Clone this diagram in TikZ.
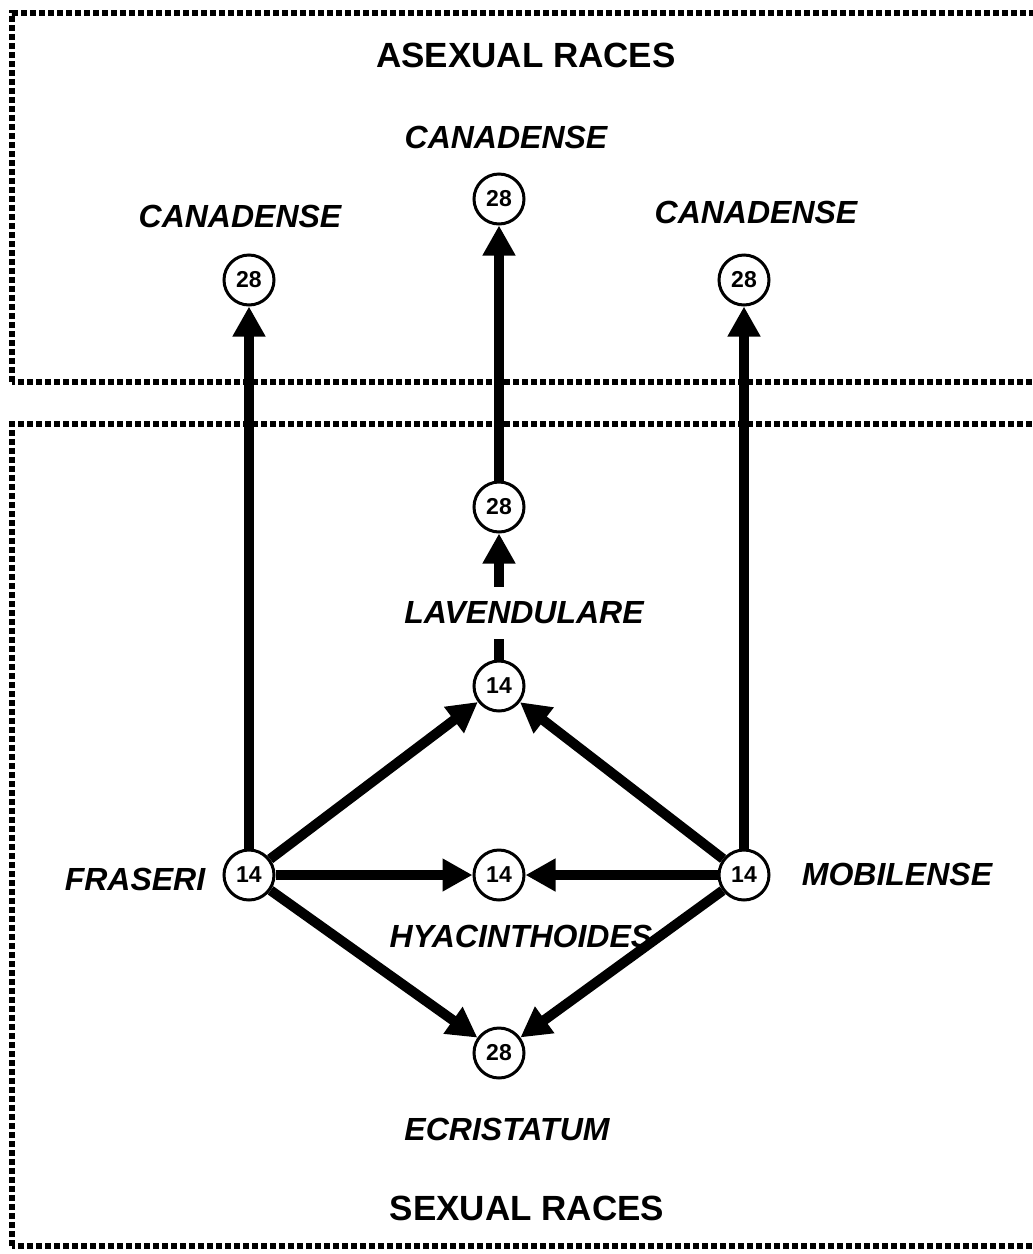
\documentclass[tikz,border=0pt]{standalone}
\usepackage{fontspec}
\setmainfont{Liberation Sans}
\usetikzlibrary{arrows.meta}
\begin{document}
\begin{tikzpicture}[x=1pt,y=-1pt,
  num/.style={circle,draw,line width=3pt,fill=white,minimum size=50pt,inner sep=0pt,font=\fontsize{23}{23}\selectfont\bfseries},
  lab/.style={inner sep=0pt,font=\fontsize{32}{32}\selectfont\bfseries\itshape},
  head/.style={inner sep=0pt,font=\fontsize{35}{35}\selectfont\bfseries},
  conn/.style={line width=10pt,-{Triangle[length=30pt,width=31pt]}},
  border/.style={line width=6.5pt,dash pattern=on 6pt off 3pt}]
\useasboundingbox (0,0) rectangle (1033,1254);
\draw[border] (12,1246) -- (12,424) -- (1050,424);
\draw[border] (1050,1246) -- (12,1246);
\draw[border] (12,382) -- (12,13) -- (1050,13);
\draw[border] (1050,382) -- (12,382);

\node[num] (tl) at (249,280) {28};
\node[num] (tc) at (499,199) {28};
\node[num] (tr) at (744,280) {28};
\node[num] (mid) at (499,507) {28};
\node[num] (lav) at (499,686) {14};
\node[num] (fra) at (249,875) {14};
\node[num] (hya) at (499,875) {14};
\node[num] (mob) at (744,875) {14};
\node[num] (ecr) at (499,1053) {28};

\node[head] (asex) at (526,55) {ASEXUAL RACES};
\node[head] (sex) at (527,1208) {SEXUAL RACES};
\node[lab] (ltl) at (240,216) {CANADENSE};
\node[lab] (ltc) at (506,137) {CANADENSE};
\node[lab] (ltr) at (756,212) {CANADENSE};
\node[lab] (lfra) at (135,879) {FRASERI};
\node[lab] (lmob) at (897,874) {MOBILENSE};
\node[lab] (lhya) at (521,936) {HYACINTHOIDES};
\node[lab] (lecr) at (507,1129) {ECRISTATUM};

\draw[conn] (fra) -- (tl);
\draw[conn] (mob) -- (tr);
\draw[conn] (mid) -- (tc);
\draw[conn] (lav) -- (mid);
\draw[conn] (fra) -- (lav);
\draw[conn] (mob) -- (lav);
\draw[conn] (fra) -- (hya);
\draw[conn] (mob) -- (hya);
\draw[conn] (fra) -- (ecr);
\draw[conn] (mob) -- (ecr);

\node[lab,fill=white,inner xsep=3pt,inner ysep=15pt] (llav) at (524,613) {LAVENDULARE};
\end{tikzpicture}
\end{document}
